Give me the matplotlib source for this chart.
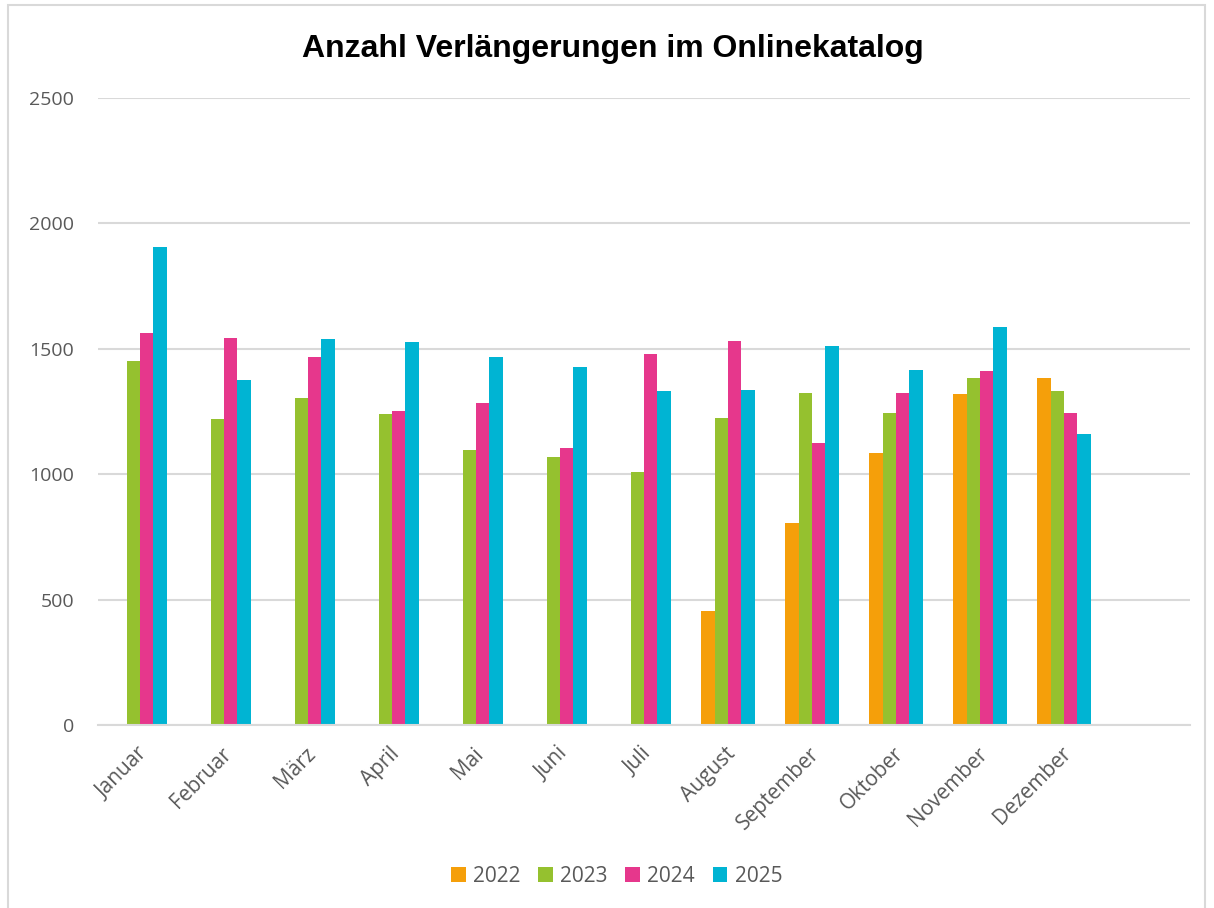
import numpy as np
import matplotlib.pyplot as plt
from matplotlib.patches import Rectangle
from matplotlib.transforms import ScaledTranslation

# --- Data ---
months = ['Januar', 'Februar', 'März', 'April', 'Mai', 'Juni', 'Juli',
          'August', 'September', 'Oktober', 'November', 'Dezember', '']
years = ['2022', '2023', '2024', '2025']
v2022 = [0, 0, 0, 0, 0, 0, 0, 455, 805, 1085, 1320, 1384, 0]
v2023 = [1451, 1220, 1304, 1240, 1096, 1069, 1009, 1224, 1324, 1244, 1384, 1332, 0]
v2024 = [1563, 1543, 1467, 1252, 1284, 1104, 1479, 1531, 1124, 1324, 1411, 1244, 0]
v2025 = [1906, 1376, 1539, 1527, 1467, 1427, 1332, 1336, 1511, 1415, 1587, 1160, 0]
colors = ['#F59F0A', '#95C12F', '#E6378C', '#00B4D3']

TEXT = '#595959'
GRID = '#D9D9D9'


def plot_chart():
    fig = plt.figure(figsize=(12.14, 9.08), dpi=100)
    ax = fig.add_axes([0.0807, 0.2015, 0.8995, 0.6905])

    x = np.arange(len(months))
    width = 0.16
    series = [v2022, v2023, v2024, v2025]
    for i, (vals, col, lab) in enumerate(zip(series, colors, years)):
        ax.bar(x + (i - 1.5) * width, vals, width, color=col, label=lab,
               zorder=3, linewidth=0)

    ax.set_xlim(-0.5, len(months) - 0.5)
    ax.set_ylim(0, 2500)
    ax.set_yticks(np.arange(0, 2501, 500))
    ax.grid(axis='y', color=GRID, linewidth=1.5, zorder=0)
    for s in ['top', 'right', 'left']:
        ax.spines[s].set_visible(False)
    ax.spines['bottom'].set_color(GRID)
    ax.spines['bottom'].set_linewidth(1.5)
    ax.spines['bottom'].set_zorder(4)

    ax.set_xticks(x[:-1])
    ax.set_xticklabels(months[:-1], rotation=45, ha='right', va='top',
                       rotation_mode='anchor', family='Open Sans',
                       fontsize=15, color=TEXT)
    ax.tick_params(axis='both', length=0)
    ax.tick_params(axis='x', pad=8)
    ax.tick_params(axis='y', pad=17)
    for t in ax.get_yticklabels():
        t.set_family('Open Sans')
        t.set_fontsize(14)
        t.set_color(TEXT)
    # small nudge so the rotated labels sit like Excel's
    shift = ScaledTranslation(-3 / 100, -7 / 100, fig.dpi_scale_trans)
    for t in ax.get_xticklabels():
        t.set_transform(t.get_transform() + shift)

    fig.text(0.505, 0.946, 'Anzahl Verlängerungen im Onlinekatalog',
             ha='center', va='center', fontsize=23, fontweight='bold',
             family='Liberation Sans', color='black')

    leg = fig.legend(loc='center', bbox_to_anchor=(0.508, 0.035), ncol=4,
                     frameon=False, handlelength=0.7, handleheight=0.7,
                     handletextpad=0.35, columnspacing=0.85,
                     prop={'family': 'Open Sans', 'size': 15})
    for t in leg.get_texts():
        t.set_color(TEXT)

    # light chart border
    fig.patches.append(Rectangle((8 / 1214, -0.01), 1197 / 1214, 1.0 - 5 / 908 + 0.01,
                                 transform=fig.transFigure, fill=False,
                                 edgecolor=GRID, linewidth=1.5))

    fig.savefig('out.png', dpi=100)


if __name__ == '__main__':
    plot_chart()
